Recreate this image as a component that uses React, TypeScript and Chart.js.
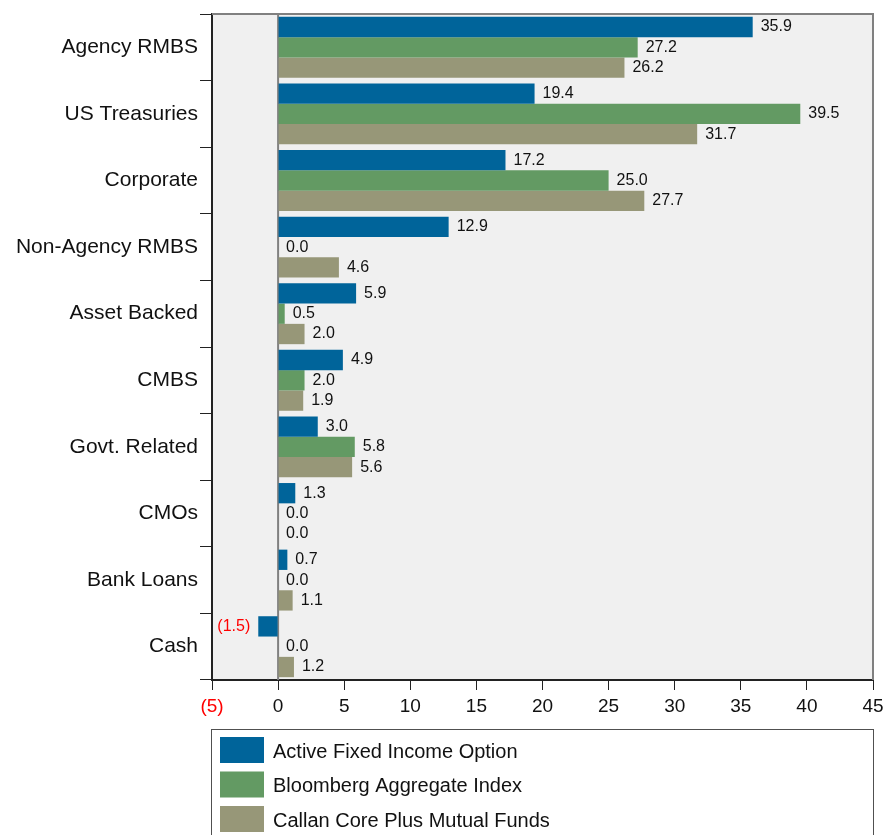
import React, { useEffect, useRef } from "react";
import { Chart, registerables } from "chart.js";

Chart.register(...registerables);

const categories = [
  "Agency RMBS",
  "US Treasuries",
  "Corporate",
  "Non-Agency RMBS",
  "Asset Backed",
  "CMBS",
  "Govt. Related",
  "CMOs",
  "Bank Loans",
  "Cash",
];
const activeFixedIncome = [35.9, 19.4, 17.2, 12.9, 5.9, 4.9, 3.0, 1.3, 0.7, -1.5];
const bloombergAggregate = [27.2, 39.5, 25.0, 0.0, 0.5, 2.0, 5.8, 0.0, 0.0, 0.0];
const callanCorePlus = [26.2, 31.7, 27.7, 4.6, 2.0, 1.9, 5.6, 0.0, 1.1, 1.2];
const seriesNames = [
  "Active Fixed Income Option",
  "Bloomberg Aggregate Index",
  "Callan Core Plus Mutual Funds",
];
const seriesColors = ["#00649A", "#639A63", "#979778"];

const FONT = "'Liberation Sans', Arial, sans-serif";

const fmt = (v: number) => (v < 0 ? `(${Math.abs(v).toFixed(1)})` : v.toFixed(1));

export default function App() {
  const ref = useRef<HTMLCanvasElement | null>(null);

  useEffect(() => {
    document.body.style.margin = "0";
    const canvas = ref.current!;
    const bgPlugin = {
      id: "bgPlugin",
      beforeDraw(chart: any) {
        const { ctx, chartArea: a } = chart;
        ctx.save();
        ctx.fillStyle = "#f0f0f0";
        ctx.fillRect(a.left, a.top, a.right - a.left, a.bottom - a.top);
        ctx.restore();
      },
      beforeDatasetsDraw(chart: any) {
        const { ctx, chartArea: a } = chart;
        const x0 = chart.scales.x.getPixelForValue(0);
        ctx.save();
        ctx.strokeStyle = "#808080";
        ctx.lineWidth = 2;
        ctx.beginPath();
        ctx.moveTo(x0, a.top);
        ctx.lineTo(x0, a.bottom);
        ctx.stroke();
        ctx.restore();
      },
      afterDraw(chart: any) {
        const { ctx, chartArea: a } = chart;
        ctx.save();
        // top & right border
        ctx.strokeStyle = "#808080";
        ctx.lineWidth = 2;
        ctx.beginPath();
        ctx.moveTo(a.left, a.top);
        ctx.lineTo(a.right, a.top);
        ctx.lineTo(a.right, a.bottom);
        ctx.stroke();
        // data labels
        ctx.font = `16px ${FONT}`;
        ctx.textBaseline = "middle";
        chart.data.datasets.forEach((ds: any, di: number) => {
          const meta = chart.getDatasetMeta(di);
          meta.data.forEach((bar: any, i: number) => {
            const v = ds.data[i];
            if (v < 0) {
              ctx.fillStyle = "#ff0000";
              ctx.textAlign = "right";
              ctx.fillText(fmt(v), bar.x - 8, bar.y);
            } else {
              ctx.fillStyle = "#111111";
              ctx.textAlign = "left";
              ctx.fillText(fmt(v), bar.x + 8, bar.y);
            }
          });
        });
        // legend box
        const lx = 211.5;
        const ly = 729.5;
        ctx.strokeStyle = "#505050";
        ctx.lineWidth = 1;
        ctx.strokeRect(lx, ly, 873 - 211, 140);
        ctx.font = `20px ${FONT}`;
        ctx.textAlign = "left";
        seriesNames.forEach((name, i) => {
          const y = 737 + i * 34.5;
          ctx.fillStyle = seriesColors[i];
          ctx.fillRect(220, y, 44, 26);
          ctx.fillStyle = "#111111";
          ctx.fillText(name, 273, y + 15);
        });
        ctx.restore();
      },
    };

    const chart = new Chart(canvas, {
      type: "bar",
      data: {
        labels: categories,
        datasets: [
          { label: seriesNames[0], data: activeFixedIncome, backgroundColor: seriesColors[0] },
          { label: seriesNames[1], data: bloombergAggregate, backgroundColor: seriesColors[1] },
          { label: seriesNames[2], data: callanCorePlus, backgroundColor: seriesColors[2] },
        ],
      },
      options: {
        indexAxis: "y",
        responsive: false,
        animation: false,
        events: [],
        datasets: { bar: { categoryPercentage: 0.915, barPercentage: 1 } },
        layout: { padding: { left: 0, right: 13, top: 14, bottom: 115 } },
        plugins: { legend: { display: false }, tooltip: { enabled: false } },
        scales: {
          x: {
            type: "linear",
            min: -5,
            max: 45,
            ticks: {
              stepSize: 5,
              padding: 5,
              font: { family: FONT, size: 19 },
              color: (c: any) => (c.tick && c.tick.value < 0 ? "#ff0000" : "#111111"),
              callback: (v: any) => (v < 0 ? `(${Math.abs(v)})` : String(v)),
            },
            grid: { drawOnChartArea: false, tickLength: 10, color: "#222222", lineWidth: 1 },
            border: { color: "#222222", width: 2 },
            afterFit: (s: any) => {
              s.height = 40;
              s.paddingLeft = 0;
              s.paddingRight = 0;
            },
          },
          y: {
            type: "category",
            ticks: {
              padding: 2,
              font: { family: FONT, size: 21 },
              color: "#111111",
            },
            grid: { offset: true, drawOnChartArea: false, tickLength: 12, color: "#222222", lineWidth: 1 },
            border: { color: "#222222", width: 2 },
            afterFit: (s: any) => {
              s.width = 212;
              s.paddingTop = 0;
              s.paddingBottom = 0;
            },
          },
        },
      },
      plugins: [bgPlugin],
    });
    return () => chart.destroy();
  }, []);

  return <canvas ref={ref} width={886} height={835} style={{ display: "block" }} />;
}
